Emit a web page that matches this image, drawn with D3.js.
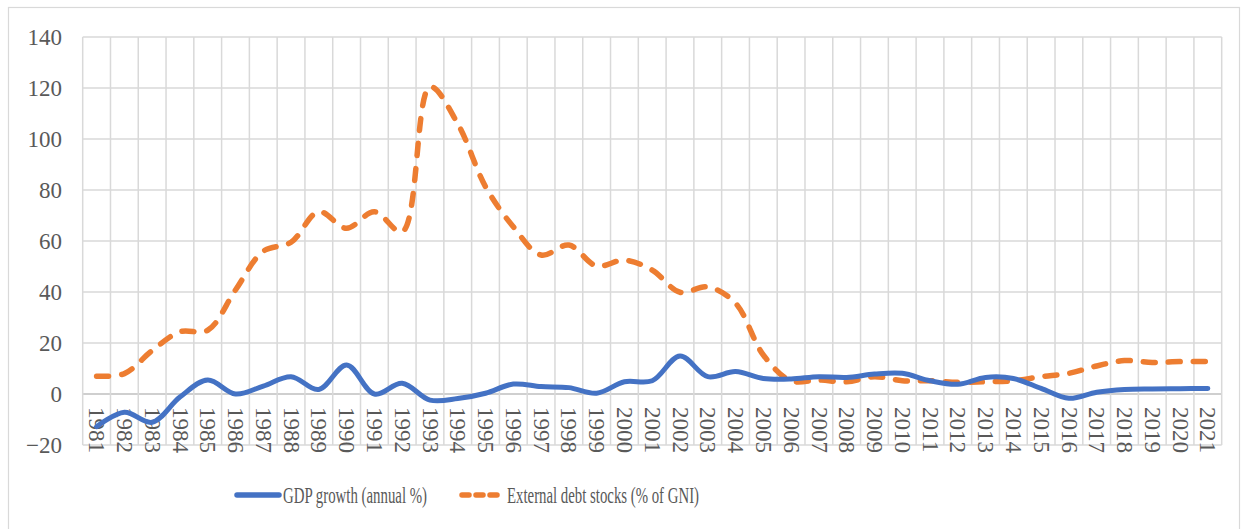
<!DOCTYPE html>
<html>
<head>
<meta charset="utf-8">
<script src="https://cdn.jsdelivr.net/npm/d3@7"></script>
<style>
  html, body { margin: 0; padding: 0; background: #fff; }
  svg { display: block; }
</style>
</head>
<body>
<svg id="chart" width="1247" height="529"></svg>
<script>
const years = [1981,1982,1983,1984,1985,1986,1987,1988,1989,1990,1991,1992,1993,1994,1995,1996,1997,1998,1999,2000,2001,2002,2003,2004,2005,2006,2007,2008,2009,2010,2011,2012,2013,2014,2015,2016,2017,2018,2019,2020,2021];
const gdpGrowth = [-12.8,-7.2,-11.1,-1.2,5.5,0.0,3.1,6.8,1.8,11.4,0.0,4.2,-2.4,-1.8,0.3,3.9,2.9,2.5,0.3,4.8,5.2,14.9,6.8,8.8,6.1,5.9,6.8,6.5,7.8,8.1,5.2,3.8,6.5,6.1,2.2,-1.7,0.7,1.8,2.0,2.1,2.2];
const externalDebt = [7.0,8.0,17.0,24.4,25.0,40.8,56.0,59.5,71.5,65.0,71.5,63.6,120.5,106.0,81.3,65.6,54.5,58.4,50.2,52.5,48.6,39.9,42.0,35.6,15.3,5.2,5.5,4.8,6.8,5.2,5.2,4.6,4.8,5.2,6.8,8.1,11.0,13.1,12.4,12.7,12.7];
const yTicks = [-20,0,20,40,60,80,100,120,140];
const seriesNames = ["GDP growth (annual %)", "External debt stocks (% of GNI)"];

const svg = d3.select("#chart");
const pLeft = 82.7, pRight = 1221.7, pTop = 37, pBottom = 445;
const textColor = "#595959";
const font = "'Liberation Serif','Times New Roman',serif";

// outer chart border
svg.append("rect").attr("x", 8.5).attr("y", 7.5).attr("width", 1231).attr("height", 530)
  .attr("fill", "#fff").attr("stroke", "#d9d9d9").attr("stroke-width", 1.2);

const x = d3.scaleBand().domain(years).range([pLeft, pRight]).padding(0);
const y = d3.scaleLinear().domain([-20, 140]).range([pBottom, pTop]);

// horizontal gridlines
svg.append("g").selectAll("line").data(yTicks).join("line")
  .attr("x1", pLeft).attr("x2", pRight)
  .attr("y1", d => y(d)).attr("y2", d => y(d))
  .attr("stroke", d => d === 0 ? "#bfbfbf" : "#d9d9d9").attr("stroke-width", 1.5);

// vertical gridlines at band boundaries
const bounds = years.map(d => x(d)).concat([pRight]);
svg.append("g").selectAll("line").data(bounds).join("line")
  .attr("x1", d => d).attr("x2", d => d)
  .attr("y1", pTop).attr("y2", pBottom)
  .attr("stroke", "#d9d9d9").attr("stroke-width", 1.5);

// y-axis labels
const yAxis = d3.axisLeft(y).tickValues(yTicks).tickSize(0).tickPadding(0).tickFormat(d3.format("d"));
const gy = svg.append("g").attr("transform", `translate(62,0)`).call(yAxis);
gy.select(".domain").remove();
gy.selectAll("text").attr("font-family", font).attr("font-size", 23).attr("fill", textColor);

// x-axis labels rotated
const xAxis = d3.axisBottom(x).tickSize(0).tickPadding(0);
const gx = svg.append("g").attr("transform", `translate(0,407)`).call(xAxis);
gx.select(".domain").remove();
gx.selectAll("text")
  .attr("font-family", font).attr("font-size", 23).attr("fill", textColor)
  .attr("transform", "rotate(90)")
  .attr("x", 0).attr("y", 0).attr("dy", "0.32em")
  .attr("text-anchor", "start");

const cx = d => x(d) + x.bandwidth() / 2;
const line = d3.line().curve(d3.curveCatmullRom.alpha(0.5));

svg.append("path")
  .attr("d", line(years.map((d, i) => [cx(d), y(externalDebt[i])])))
  .attr("fill", "none").attr("stroke", "#ED7D31").attr("stroke-width", 5.5)
  .attr("stroke-linecap", "round").attr("stroke-dasharray", "12,13");

svg.append("path")
  .attr("d", line(years.map((d, i) => [cx(d), y(gdpGrowth[i])])))
  .attr("fill", "none").attr("stroke", "#4472C4").attr("stroke-width", 5)
  .attr("stroke-linecap", "round");

// legend
const ly = 495;
const leg = svg.append("g");
leg.append("line").attr("x1", 237).attr("x2", 279).attr("y1", ly).attr("y2", ly)
  .attr("stroke", "#4472C4").attr("stroke-width", 5.5).attr("stroke-linecap", "round");
leg.append("text").attr("x", 283).attr("y", ly).attr("dy", "0.35em")
  .attr("font-family", font).attr("font-size", 24).attr("fill", textColor)
  .attr("textLength", 144).attr("lengthAdjust", "spacingAndGlyphs")
  .text(seriesNames[0]);
leg.append("line").attr("x1", 462).attr("x2", 499).attr("y1", ly).attr("y2", ly)
  .attr("stroke", "#ED7D31").attr("stroke-width", 5.5).attr("stroke-linecap", "round")
  .attr("stroke-dasharray", "7,7");
leg.append("text").attr("x", 507).attr("y", ly).attr("dy", "0.35em")
  .attr("font-family", font).attr("font-size", 24).attr("fill", textColor)
  .attr("textLength", 192).attr("lengthAdjust", "spacingAndGlyphs")
  .text(seriesNames[1]);
</script>
</body>
</html>
